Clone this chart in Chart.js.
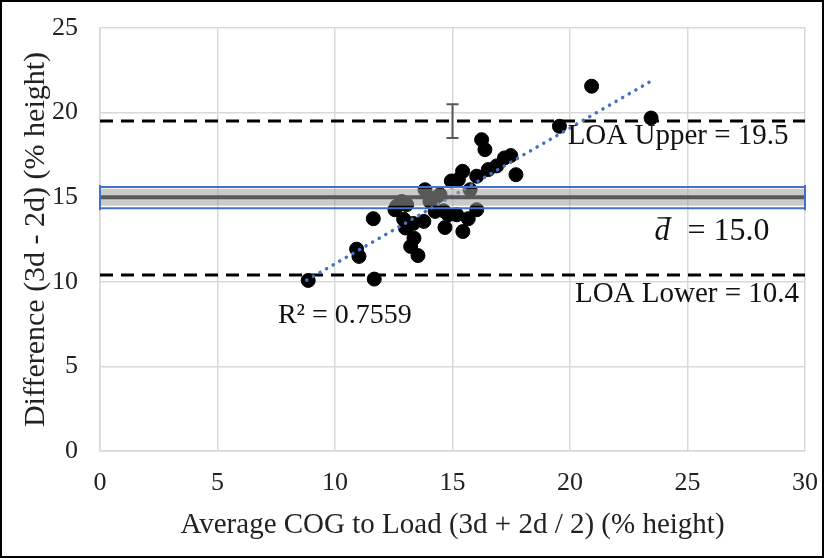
<!DOCTYPE html>
<html>
<head>
<meta charset="utf-8">
<script src="https://cdn.jsdelivr.net/npm/chart.js@4.4.1/dist/chart.umd.min.js"></script>
<style>
  body { margin: 0; background: #fff; }
  #wrap { width: 824px; height: 558px; box-sizing: border-box; border: 2px solid #000; background: #fff; }
</style>
</head>
<body>
<div id="wrap"><canvas id="chart" width="820" height="554"></canvas></div>
<script>
// average of the two methods (x) and their difference (y)
var avgX = [8.86, 10.92, 11.02, 11.67, 11.63, 12.55, 12.84, 12.62, 13.05, 12.92,
            13.00, 13.33, 13.36, 13.22, 13.53, 13.78, 13.83, 14.04, 14.26, 14.47,
            14.26, 14.62, 14.68, 14.82, 15.18, 15.44, 15.67, 16.03, 15.75, 14.95,
            15.25, 15.43, 16.03, 16.24, 16.38, 16.52, 16.88, 17.21, 17.48, 17.70,
            19.55, 20.92, 23.45];
var diffY = [10.08, 11.93, 11.50, 10.16, 13.73, 14.26, 14.75, 14.46, 14.56, 13.70,
             13.18, 13.45, 12.58, 12.09, 11.55, 13.57, 15.44, 14.75, 14.95, 15.15,
             14.16, 14.20, 13.21, 13.96, 13.96, 12.97, 13.73, 14.26, 15.44, 15.96,
             16.04, 16.53, 16.24, 18.40, 17.81, 16.63, 16.85, 17.32, 17.46, 16.33,
             19.19, 21.56, 19.68];

var meanDiff = 15.0;
var ciLower = 14.35, ciUpper = 15.6;
var loaUpper = 19.5, loaLower = 10.4;
var loaErrX = 15, loaErr = 1.0;
var trendX = [8.8, 23.5];
var trendY = [10.1, 21.9];
var rSquared = 0.7559;
var xRange = [0, 30];
var yRange = [0, 25];

var points = avgX.map(function (x, i) { return { x: x, y: diffY[i] }; });
function hLine(y) { return [{ x: xRange[0], y: y }, { x: xRange[1], y: y }]; }

var serif = "'Liberation Serif', 'Times New Roman', serif";

var extras = {
    id: "extras",
    afterDatasetsDraw: function (chart) {
        var c = chart.ctx, xs = chart.scales.x, ys = chart.scales.y;
        c.save();
        // CI caps at both ends
        c.strokeStyle = "#4472c4";
        c.lineWidth = 2;
        [xRange[0], xRange[1]].forEach(function (v) {
            var px = xs.getPixelForValue(v);
            c.beginPath();
            c.moveTo(px, ys.getPixelForValue(ciUpper) - 2);
            c.lineTo(px, ys.getPixelForValue(ciLower) + 2);
            c.stroke();
        });
        // error bar on LOA upper
        c.strokeStyle = "#595959";
        c.lineWidth = 2;
        var ex = xs.getPixelForValue(loaErrX);
        var t = ys.getPixelForValue(loaUpper + loaErr), b = ys.getPixelForValue(loaUpper - loaErr);
        c.beginPath();
        c.moveTo(ex, t); c.lineTo(ex, b);
        c.moveTo(ex - 6, t); c.lineTo(ex + 6, t);
        c.moveTo(ex - 6, b); c.lineTo(ex + 6, b);
        c.stroke();

        // text labels
        c.fillStyle = "#111";
        c.textBaseline = "middle";
        c.textAlign = "left";
        c.font = "29px " + serif;
        c.fillText("LOA Upper = " + loaUpper.toFixed(1), xs.getPixelForValue(19.9), ys.getPixelForValue(18.59));
        c.fillText("LOA Lower = " + loaLower.toFixed(1), xs.getPixelForValue(20.21), ys.getPixelForValue(9.28));
        c.font = "28px " + serif;
        c.fillText("R\u00B2 = " + rSquared.toFixed(4), xs.getPixelForValue(7.57), ys.getPixelForValue(8.01));
        c.font = "32px " + serif;
        c.fillText("= " + meanDiff.toFixed(1), xs.getPixelForValue(25.0), ys.getPixelForValue(12.95));
        c.font = "italic 31px " + serif;
        var dx = xs.getPixelForValue(23.6), dy = ys.getPixelForValue(12.95);
        c.fillText("d", dx, dy);
        c.lineWidth = 1.3;
        c.strokeStyle = "#111";
        c.beginPath(); c.moveTo(dx + 3, dy - 14); c.lineTo(dx + 17, dy - 14); c.stroke();
        c.restore();
    }
};

var ctx = document.getElementById("chart").getContext("2d");

new Chart(ctx, {
    type: "scatter",
    data: {
        datasets: [
            {
                label: "CI upper", type: "line", data: hLine(ciUpper),
                borderColor: "#4472c4", borderWidth: 2, pointRadius: 0, order: 1
            },
            {
                label: "CI lower", type: "line", data: hLine(ciLower),
                borderColor: "#4472c4", borderWidth: 2, pointRadius: 0, order: 2
            },
            {
                label: "Mean", type: "line", data: hLine(meanDiff),
                borderColor: "#595959", borderWidth: 4, pointRadius: 0, order: 3
            },
            {
                label: "Mean band", type: "line", data: hLine(meanDiff),
                borderColor: "rgba(160,160,160,0.55)", borderWidth: 17, borderCapStyle: "butt",
                pointRadius: 0, order: 4
            },
            {
                label: "Trend", type: "line",
                data: trendX.map(function (x, i) { return { x: x, y: trendY[i] }; }),
                borderColor: "#4472c4", borderWidth: 3.5, borderDash: [0.1, 7.5], borderCapStyle: "round",
                pointRadius: 0, order: 5
            },
            {
                label: "LOA upper", type: "line", data: hLine(loaUpper),
                borderColor: "#000", borderWidth: 3, borderDash: [13, 8], pointRadius: 0, order: 6
            },
            {
                label: "LOA lower", type: "line", data: hLine(loaLower),
                borderColor: "#000", borderWidth: 3, borderDash: [13, 8], pointRadius: 0, order: 7
            },
            {
                label: "Difference", data: points,
                backgroundColor: "#000", borderColor: "#000", pointRadius: 7, order: 8
            }
        ]
    },
    options: {
        responsive: false,
        animation: false,
        layout: { padding: { top: 26, right: 17, left: 0, bottom: 0 } },
        plugins: {
            legend: { display: false },
            tooltip: { enabled: false }
        },
        scales: {
            x: {
                type: "linear", min: xRange[0], max: xRange[1],
                afterFit: function (s) { s.height = 105; s.paddingLeft = 0; s.paddingRight = 0; },
                grid: { color: "#d9d9d9", lineWidth: 1.5, drawTicks: false },
                border: { color: "#d9d9d9", width: 1.5 },
                ticks: { stepSize: 5, padding: 17, color: "#222", font: { family: serif, size: 26 } },
                title: {
                    display: true, text: "Average COG to Load (3d + 2d / 2) (% height)",
                    color: "#222", font: { family: serif, size: 29 }, padding: { top: 0, bottom: 13 }
                }
            },
            y: {
                type: "linear", min: yRange[0], max: yRange[1],
                afterFit: function (s) { s.width = 98; s.paddingTop = 0; s.paddingBottom = 0; },
                grid: { color: "#d9d9d9", lineWidth: 1.5, drawTicks: false },
                border: { color: "#d9d9d9", width: 1.5 },
                ticks: { stepSize: 5, padding: 22, color: "#222", font: { family: serif, size: 26 } },
                title: {
                    display: true, text: "Difference (3d - 2d) (% height)",
                    color: "#222", font: { family: serif, size: 30 }, padding: { bottom: 0, top: 16 }
                }
            }
        }
    },
    plugins: [extras]
});
</script>
</body>
</html>
